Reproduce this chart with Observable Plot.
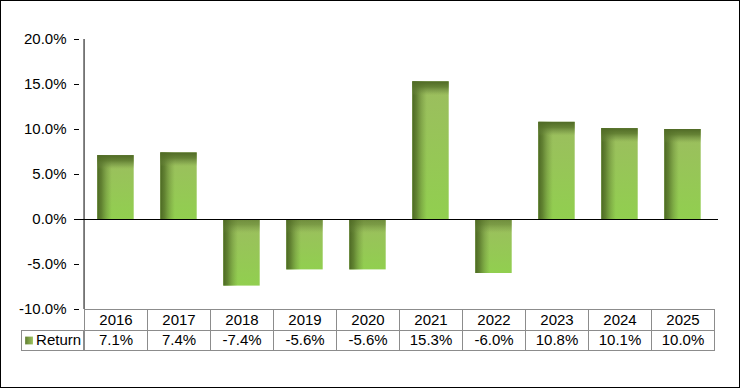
<!DOCTYPE html>
<html><head><meta charset="utf-8">
<script src="https://cdn.jsdelivr.net/npm/d3@7"></script>
<script src="https://cdn.jsdelivr.net/npm/@observablehq/plot@0.6"></script>
<style>
body{margin:0;background:#fff}
#chart svg{display:block;outline:1px solid #000;outline-offset:-1px}
</style></head><body><div id="chart"></div>
<script>
const years = ["2016","2017","2018","2019","2020","2021","2022","2023","2024","2025"];
const returns = [0.071, 0.074, -0.074, -0.056, -0.056, 0.153, -0.060, 0.108, 0.101, 0.100];
const yTicks = [-0.10, -0.05, 0, 0.05, 0.10, 0.15, 0.20];
const seriesName = "Return";

const data = years.map((year, i) => ({year, value: returns[i], top: Math.max(returns[i], 0), neg: returns[i] < 0}));
const fmt = d => (d * 100).toFixed(1) + "%";

const W = 740, H = 388, mL = 79, mR = 22, mT = 39, mB = 79;
const frameH = H - mT - mB;
const bw = (W - mL - mR) / years.length;
const barInset = 13.3;
const FONT = 15;
const gridColor = "#8c8c8c";

function defs() {
  const d = d3.create("svg:defs");
  const grad = (id, x2, y2, stops) => {
    const g = d.append("linearGradient").attr("id", id).attr("x1", 0).attr("y1", 0).attr("x2", x2).attr("y2", y2);
    for (const [o, c, a] of stops) g.append("stop").attr("offset", o).attr("stop-color", c).attr("stop-opacity", a);
  };
  grad("barBody", 0, 1, [[0, "#9cbd5f", 1], [1, "#91cf4f", 1]]);
  grad("barLeft", 1, 0, [[0, "#4c6823", 1], [0.12, "#557229", 0.8], [0.25, "#5f7d31", 0.4], [0.4, "#6a8a38", 0]]);
  grad("barTop", 0, 1, [[0, "#506a26", 1], [0.4, "#58742b", 0.8], [0.75, "#67833a", 0.35], [1, "#7e9a44", 0]]);
  grad("swatch", 1, 0, [[0, "#5f7d31", 1], [1, "#9fc45e", 1]]);
  return d.node();
}

const tableText = {frameAnchor: "bottom", lineAnchor: "middle", fontSize: FONT, fill: "#000"};

const chart = Plot.plot({
  width: W, height: H,
  marginLeft: mL, marginRight: mR, marginTop: mT, marginBottom: mB,
  style: {fontFamily: "'Liberation Sans', Arial, sans-serif", fontSize: FONT + "px", color: "#000", background: "#fff"},
  x: {domain: years, padding: 0, axis: null},
  y: {domain: [-0.10, 0.20], axis: null},
  marks: [
    defs,
    Plot.barY(data, {x: "year", y: "value", fill: "url(#barBody)", insetLeft: barInset, insetRight: barInset}),
    Plot.barY(data, {x: "year", y: "value", fill: "url(#barLeft)", insetLeft: barInset, insetRight: barInset}),
    Plot.barY(data, {x: "year", y1: "top", y2: "top", fill: "url(#barTop)", fillOpacity: d => d.neg ? 0.6 : 1, insetLeft: barInset, insetRight: barInset, insetBottom: -14}),
    Plot.ruleY([0], {stroke: "#000"}),
    Plot.ruleX([years[0]], {x: d => d, dx: -bw / 2, stroke: "#000"}),
    Plot.axisY(yTicks, {tickFormat: fmt, tickSize: 5, tickPadding: 8, fontSize: FONT, label: null, stroke: "#000"}),
    // data table: header row
    Plot.cell(years, {x: d => d, fill: "none", stroke: gridColor, insetTop: frameH, insetBottom: -21, shapeRendering: "crispEdges"}),
    // data table: values row
    Plot.cell(years, {x: d => d, fill: "none", stroke: gridColor, insetTop: frameH + 21, insetBottom: -41, shapeRendering: "crispEdges"}),
    // legend cell
    Plot.cell([seriesName], {x: () => years[0], fill: "none", stroke: gridColor, insetTop: frameH + 21, insetBottom: -41, insetLeft: -63, insetRight: bw, shapeRendering: "crispEdges"}),
    Plot.text(years, {x: d => d, text: d => d, dy: 10.5, ...tableText}),
    Plot.text(data, {x: "year", text: d => fmt(d.value), dy: 31, ...tableText}),
    Plot.dot([seriesName], {x: () => years[0], frameAnchor: "bottom", dy: 31, dx: 24 - (mL + bw / 2), symbol: "square", r: 4.4, fill: "url(#swatch)", stroke: "none"}),
    Plot.text([seriesName], {x: () => years[0], text: d => d, dy: 31, dx: 31 - (mL + bw / 2), textAnchor: "start", ...tableText})
  ]
});
document.getElementById("chart").append(chart);
</script></body></html>
